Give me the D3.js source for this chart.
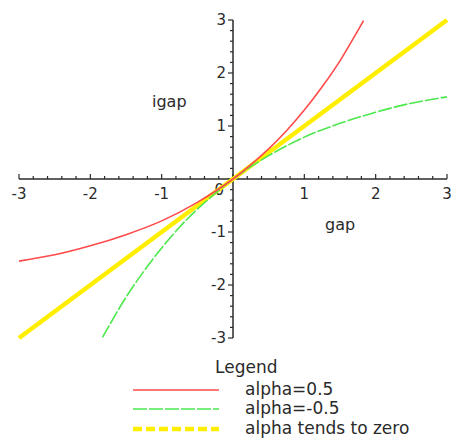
<!DOCTYPE html>
<html><head><meta charset="utf-8">
<script src="https://cdn.jsdelivr.net/npm/d3@7"></script>
<style>html,body{margin:0;padding:0;background:#fff;}svg{display:block;}</style>
</head><body>
<script>
// Data
const redX   = [-3, -2.5, -2, -1.5, -1, -0.5, 0, 0.5, 0.75, 1, 1.25, 1.5, 1.75, 1.83];
const redY   = [-1.55, -1.43, -1.26, -1.05, -0.79, -0.44, 0, 0.57, 0.91, 1.30, 1.74, 2.23, 2.80, 2.99];
const greenX = [-1.83, -1.75, -1.5, -1.25, -1, -0.75, -0.5, 0, 0.5, 1, 1.5, 2, 2.5, 3];
const greenY = [-2.99, -2.80, -2.23, -1.74, -1.30, -0.91, -0.57, 0, 0.44, 0.79, 1.05, 1.26, 1.43, 1.55];
const yellowX = [-3, 3];
const yellowY = [-3, 3];
const tickValues = [-3, -2, -1, 1, 2, 3];
const legendLabels = ["alpha=0.5", "alpha=-0.5", "alpha tends to zero"];

const W = 454, H = 441;
const svg = d3.select("body").append("svg").attr("width", W).attr("height", H);
svg.append("rect").attr("width", W).attr("height", H).attr("fill", "#fff");

const x = d3.scaleLinear().domain([-3, 3]).range([19, 447]);
const y = d3.scaleLinear().domain([-3, 3]).range([338, 20]);
const font = "'DejaVu Sans', sans-serif";
const ink = "#2a2a2a";

// axes lines
svg.append("line").attr("x1", x(-3)).attr("x2", x(3)).attr("y1", y(0)).attr("y2", y(0))
  .attr("stroke", ink).attr("stroke-width", 1.5);
svg.append("line").attr("x1", x(0)).attr("x2", x(0)).attr("y1", y(-3)).attr("y2", y(3))
  .attr("stroke", ink).attr("stroke-width", 1.5);

// minor/major ticks every 0.2
const minor = d3.range(-15, 16).map(i => i / 5);
svg.append("g").selectAll("line").data(minor).join("line")
  .attr("x1", d => x(d)).attr("x2", d => x(d))
  .attr("y1", y(0)).attr("y2", d => y(0) - (Number.isInteger(d) ? 5 : 3))
  .attr("stroke", ink).attr("stroke-width", 1.2);
svg.append("g").selectAll("line").data(minor).join("line")
  .attr("y1", d => y(d)).attr("y2", d => y(d))
  .attr("x1", x(0)).attr("x2", d => x(0) - (Number.isInteger(d) ? 5 : 3))
  .attr("stroke", ink).attr("stroke-width", 1.2);

// tick labels
svg.append("g").selectAll("text").data(tickValues).join("text")
  .attr("x", d => x(d)).attr("y", 199).attr("text-anchor", "middle")
  .attr("font-family", font).attr("font-size", 15).attr("fill", ink)
  .text(d => d);
svg.append("g").selectAll("text").data(tickValues).join("text")
  .attr("x", 226).attr("y", d => y(d)).attr("dy", "0.36em").attr("text-anchor", "end")
  .attr("font-family", font).attr("font-size", 15).attr("fill", ink)
  .text(d => d);
svg.append("text").attr("x", 224).attr("y", 195).attr("text-anchor", "end")
  .attr("font-family", font).attr("font-size", 15).attr("fill", ink).text("0");

// axis titles
svg.append("text").attr("x", 152).attr("y", 107).attr("font-family", font).attr("font-size", 16)
  .attr("fill", ink).text("igap");
svg.append("text").attr("x", 325).attr("y", 230).attr("font-family", font).attr("font-size", 16)
  .attr("fill", ink).text("gap");

// curves
const line = d3.line().x(d => x(d[0])).y(d => y(d[1])).curve(d3.curveCatmullRom);
svg.append("path").datum(yellowX.map((v, i) => [v, yellowY[i]])).attr("d", line)
  .attr("fill", "none").attr("stroke", "#ffee00").attr("stroke-width", 4.5);
svg.append("path").datum(greenX.map((v, i) => [v, greenY[i]])).attr("d", line)
  .attr("fill", "none").attr("stroke", "#4ee84e").attr("stroke-width", 1.6)
  .attr("stroke-dasharray", "14,2");
svg.append("path").datum(redX.map((v, i) => [v, redY[i]])).attr("d", line)
  .attr("fill", "none").attr("stroke", "#ff4a4a").attr("stroke-width", 1.6);

// legend
svg.append("text").attr("x", 215).attr("y", 373).attr("font-family", font).attr("font-size", 17)
  .attr("fill", ink).text("Legend");
const legStyles = [
  {color: "#ff4a4a", w: 1.6, dash: null},
  {color: "#4ee84e", w: 1.6, dash: "14,2"},
  {color: "#ffee00", w: 4.5, dash: "9,4"}
];
const legY = [390, 409, 429];
legendLabels.forEach((lab, i) => {
  svg.append("line").attr("x1", 133).attr("x2", 219).attr("y1", legY[i]).attr("y2", legY[i])
    .attr("stroke", legStyles[i].color).attr("stroke-width", legStyles[i].w)
    .attr("stroke-dasharray", legStyles[i].dash);
  svg.append("text").attr("x", 245).attr("y", legY[i] + 5).attr("font-family", font)
    .attr("font-size", 17).attr("fill", ink).text(lab);
});
</script>
</body></html>
